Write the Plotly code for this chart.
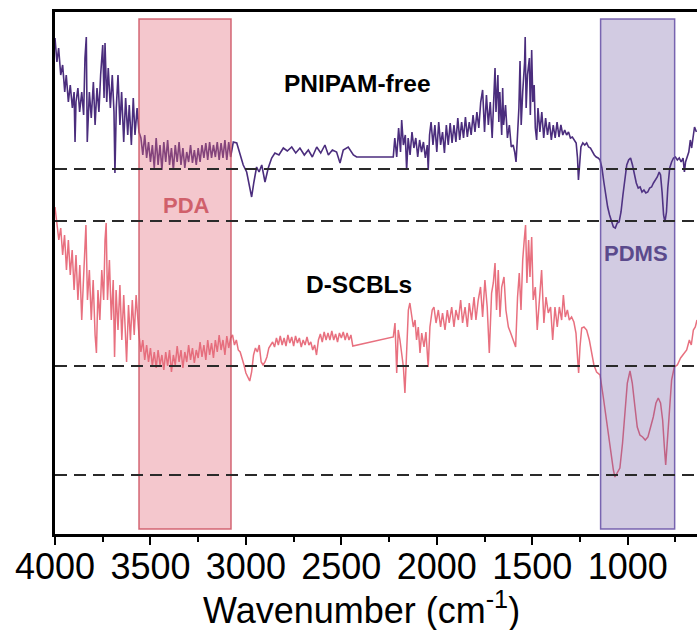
import plotly.graph_objects as go

# ---------------- data ----------------
# wavenumber (cm-1), transmittance (arbitrary offset units)
PNIPAM_FREE = [
    (4000,496),(3990,472),(3981,486),(3970,459),(3960,469),(3949,442),(3941,459),(3930,432),(3920,449),(3909,426),
    (3900,442),(3895,392),(3890,432),(3880,446),(3871,422),(3860,442),(3850,419),(3843,476),(3836,497),(3831,392),
    (3820,442),(3810,416),(3799,452),(3790,409),(3780,446),(3770,422),(3761,459),(3750,489),(3743,436),(3738,491),
    (3729,432),(3721,466),(3710,426),(3700,459),(3691,422),(3686,361),(3679,426),(3670,459),(3660,409),(3651,442),
    (3640,392),(3630,436),(3619,399),(3611,429),(3600,389),(3590,436),(3581,399),(3570,426),(3560,402),
    (3550,396),(3540,379),(3530,399),(3520,376),(3510,392),(3500,372),(3490,389),(3480,366),(3470,396),(3460,369),
    (3450,389),(3440,364),(3430,392),(3420,372),(3410,394),(3400,369),(3390,386),(3380,364),(3370,389),(3360,372),
    (3350,392),(3340,369),(3330,386),(3320,366),(3310,382),(3300,372),(3290,389),(3280,371),(3270,384),(3260,369),
    (3250,386),(3240,372),(3230,389),(3220,376),(3210,391),(3200,374),(3190,392),(3180,376),(3170,389),(3160,377),
    (3150,392),(3140,374),(3130,391),(3120,376),(3110,394),(3100,374),(3090,392),(3080,377),
    (3066,392),(3048,391),(3031,381),(3014,369),(2996,362),(2982,349),(2970,337),(2958,352),(2944,367),(2931,362),
    (2917,369),(2900,352),(2883,366),(2865,376),(2848,381),(2827,379),(2804,386),(2783,383),(2760,387),(2739,381),
    (2717,386),(2694,379),(2673,384),(2652,377),(2629,387),(2608,381),(2586,389),(2568,379),(2547,384),(2525,382),
    (2507,371),(2490,384),(2464,387),(2437,379),(2420,377),(2228,377),
    (2220,396),(2210,377),(2200,406),(2190,382),(2184,414),(2175,389),(2165,399),(2158,364),(2150,396),(2140,379),
    (2130,402),(2120,386),(2110,396),(2100,377),(2090,394),(2080,382),(2070,392),(2060,376),(2050,389),(2045,364),
    (2038,399),(2030,412),(2020,389),(2010,409),(2000,382),(1990,412),(1980,389),(1970,402),(1960,381),(1950,409),
    (1940,389),(1930,411),(1920,391),(1910,409),(1900,392),(1890,416),(1880,394),(1870,412),(1860,396),(1850,417),
    (1840,397),(1830,412),(1820,399),(1810,419),(1800,402),(1790,422),(1780,406),(1770,432),(1760,444),(1750,402),
    (1740,439),(1730,409),(1720,432),(1710,396),(1700,452),(1695,466),(1690,422),(1680,459),(1675,412),(1670,442),
    (1660,399),(1655,446),(1650,409),(1640,429),(1630,396),(1620,409),(1610,387),(1600,389),(1592,382),(1585,372),
    (1578,396),(1570,426),(1564,473),(1558,409),(1550,442),(1540,472),(1537,497),(1532,426),(1525,459),(1515,476),
    (1510,419),(1503,484),(1497,432),(1490,449),(1484,406),(1477,394),(1470,426),(1460,402),(1450,422),(1440,396),
    (1430,416),(1420,399),(1410,412),(1400,394),(1390,409),(1380,396),(1370,412),(1360,397),(1350,409),(1340,399),
    (1330,404),(1320,399),
    (1310,402),(1300,396),(1290,397),(1280,394),(1270,391),(1263,376),(1258,354),(1252,369),(1245,387),(1235,391),
    (1225,389),(1215,391),(1205,387),(1195,386),(1185,382),(1175,379),(1165,377),(1155,376),(1145,374),(1135,366),
    (1125,352),(1115,339),(1105,327),(1095,319),(1085,312),(1075,307),(1065,306),(1055,311),(1045,312),(1035,322),
    (1025,339),(1015,356),(1005,369),(995,374),(985,376),(975,369),(965,359),(955,351),(945,346),(935,347),
    (925,342),(915,344),(905,341),(895,342),(885,346),(875,347),(865,351),(855,354),(845,357),(835,362),
    (828,359),(820,342),(812,319),(805,312),(797,322),(790,346),(780,366),(770,372),(760,376),(750,377),
    (740,374),(730,376),(720,372),(710,376),(703,362),(697,372),(690,377),(680,382),(672,394),(665,386),
    (658,396),(650,407),(640,402),
]

D_SCBLS = [
    (4000,327),(3990,309),(3980,294),(3970,306),(3960,279),(3950,299),(3940,264),(3930,294),(3920,259),(3910,284),
    (3900,244),(3890,279),(3880,234),(3870,269),(3860,214),(3852,249),(3845,289),(3838,309),(3830,234),(3820,264),
    (3810,214),(3800,254),(3790,199),(3783,181),(3775,244),(3765,214),(3755,264),(3745,234),(3738,294),(3732,311),
    (3725,234),(3715,274),(3705,214),(3695,254),(3688,177),(3680,244),(3670,204),(3660,249),(3650,194),(3640,239),
    (3632,204),(3625,172),(3615,229),(3605,194),(3595,234),(3585,199),(3575,239),(3565,204),
    (3560,199),(3550,182),(3540,194),(3530,174),(3520,189),(3510,172),(3500,186),(3490,168),(3480,182),(3470,166),
    (3460,184),(3450,169),(3440,179),(3430,164),(3420,182),(3410,168),(3400,184),(3390,162),(3380,179),(3370,169),
    (3360,188),(3350,172),(3340,184),(3330,166),(3320,182),(3310,172),(3300,189),(3290,174),(3280,186),(3270,171),
    (3260,184),(3250,176),(3240,192),(3230,177),(3220,189),(3210,174),(3200,194),(3190,179),(3180,191),(3170,176),
    (3160,194),(3150,182),(3140,199),(3130,184),(3120,194),(3110,179),(3100,198),(3090,186),(3080,196),
    (3070,199),(3060,189),(3050,194),(3040,184),(3030,182),(3020,176),(3010,169),(3000,161),(2990,156),(2980,153),
    (2970,162),(2960,179),(2950,186),(2940,182),(2930,189),(2920,172),(2910,169),(2900,172),(2890,177),(2880,186),
    (2870,189),(2860,192),(2850,187),(2840,196),(2830,189),(2820,198),(2810,189),(2800,196),(2790,188),(2780,199),
    (2770,191),(2760,197),(2750,188),(2740,198),(2730,191),(2720,196),(2710,187),(2700,194),(2690,189),(2680,197),
    (2670,189),(2660,192),(2650,184),(2640,189),(2630,179),(2620,194),(2610,200),(2600,192),(2590,202),(2580,194),
    (2570,201),(2560,194),(2550,203),(2540,194),(2530,200),(2520,192),(2510,201),(2500,196),(2490,202),(2480,194),
    (2470,201),(2460,194),(2450,199),(2440,188),
    (2228,197),(2219,211),(2210,161),(2202,204),(2193,194),(2184,177),(2175,167),(2167,141),(2158,187),(2149,224),
    (2141,231),(2132,221),(2123,207),(2114,214),(2106,194),(2097,207),(2088,181),(2079,201),(2067,187),(2057,202),
    (2045,167),(2036,207),(2024,224),(2015,227),(2004,211),(1992,224),(1980,207),(1970,221),(1957,204),(1945,224),
    (1935,211),(1922,227),(1910,207),(1900,224),(1887,214),(1875,234),(1865,211),(1852,227),(1840,207),(1830,231),
    (1818,214),(1805,237),(1795,214),(1783,234),(1771,247),(1760,217),(1748,254),(1736,227),(1725,181),(1713,241),
    (1704,251),(1695,271),(1687,224),(1678,264),(1669,217),(1660,247),(1648,257),(1638,224),(1625,207),(1613,201),
    (1599,194),(1587,187),(1577,237),(1568,261),(1559,224),(1550,274),(1542,294),(1535,309),(1528,251),(1519,294),
    (1512,257),(1503,297),(1495,234),(1484,247),(1474,204),(1463,234),(1451,264),(1439,211),(1428,237),(1416,221),
    (1404,227),(1393,194),(1381,227),(1369,207),(1358,227),(1346,214),(1337,239),(1327,217),(1316,224),(1306,214),
    (1294,217),(1282,212),(1271,201),(1262,174),(1257,161),(1250,187),(1241,206),(1229,207),(1215,204),(1201,194),
    (1189,181),(1177,169),(1163,162),(1149,159),
    (1145,159),(1128,137),(1110,111),(1093,87),(1075,64),(1067,57),(1054,62),(1041,66),(1027,91),(1014,121),
    (1002,151),(988,163),(976,151),(962,127),(950,107),(936,99),(922,97),(908,94),(894,97),(880,107),
    (866,117),(852,131),(840,136),(828,131),(817,114),(808,87),(801,69),(793,91),(782,127),(770,154),
    (756,167),(740,169),(723,176),(705,181),(691,184),(677,194),(667,189),(656,204),(646,207),(637,214),
]

X_RANGE = [4000, 637]
Y_RANGE = [0, 522]
X_TICKS = [4000, 3500, 3000, 2500, 2000, 1500, 1000]
X_TICK_LABELS = ["4000", "3500", "3000", "2500", "2000", "1500", "1000"]
X_TITLE = "Wavenumber (cm<sup>-1</sup>)"
DASH_LEVELS = [365, 313, 168, 59]
BANDS = [  # (label, from, to)
    ("PDA", 3560, 3078),
    ("PDMS", 1142, 754),
]
SERIES_LABELS = [("PNIPAM-free", 2415, 451), ("D-SCBLs", 2408, 250)]
BAND_LABELS = [("PDA", 3309, 329), ("PDMS", 954, 281)]

PURPLE = "#4b2d7d"
PINK = "#e8707f"
FONT = "Arial, Liberation Sans, sans-serif"

fig = go.Figure()
for name, data, color, w in [("PNIPAM-free", PNIPAM_FREE, PURPLE, 1.6),
                             ("D-SCBLs", D_SCBLS, PINK, 1.5)]:
    fig.add_trace(go.Scatter(
        x=[p[0] for p in data], y=[p[1] for p in data],
        mode="lines", line=dict(color=color, width=w), name=name,
        showlegend=False, hoverinfo="skip"))

band_styles = {
    "PDA": dict(fill="rgba(226,108,124,0.38)", line="rgba(205,80,95,0.85)", text="#d0606b"),
    "PDMS": dict(fill="rgba(95,70,150,0.28)", line="rgba(100,78,165,0.85)", text="#5b4a8c"),
}
for label, a, b in BANDS:
    st = band_styles[label]
    fig.add_shape(type="rect", xref="x", yref="y", x0=a, x1=b, y0=5, y1=515,
                  fillcolor=st["fill"], line=dict(color=st["line"], width=1.5),
                  layer="above")

for lvl in DASH_LEVELS:
    fig.add_shape(type="line", xref="paper", yref="y", x0=0, x1=1, y0=lvl, y1=lvl,
                  line=dict(color="#2a2a2a", width=1.8, dash="12px,7px"), layer="above")

for text, x, y in SERIES_LABELS:
    fig.add_annotation(x=x, y=y, text=f"<b>{text}</b>", showarrow=False,
                       font=dict(family=FONT, size=24.5, color="#000000"))
for text, x, y in BAND_LABELS:
    fig.add_annotation(x=x, y=y, text=f"<b>{text}</b>", showarrow=False,
                       font=dict(family=FONT, size=22, color=band_styles[text]["text"]))

# axis title placed as paper annotation (centre ~ x=361px, y=607px)
fig.add_annotation(xref="paper", yref="paper", x=0.477, y=-0.141,
                   xanchor="center", yanchor="middle", showarrow=False,
                   text=X_TITLE, font=dict(family=FONT, size=36, color="#000000"))

fig.update_layout(
    width=697, height=630,
    margin=dict(l=55, r=0, t=12, b=96),
    plot_bgcolor="white", paper_bgcolor="white",
    showlegend=False,
    font=dict(family=FONT, color="#000000"),
)
fig.update_xaxes(
    range=X_RANGE, showgrid=False, zeroline=False,
    showline=True, linecolor="#000000", linewidth=2.5, mirror=True,
    ticks="outside", ticklen=8, tickwidth=2, tickcolor="#000000",
    tickvals=X_TICKS, ticktext=X_TICK_LABELS, ticklabelstandoff=-9,
    tickfont=dict(family=FONT, size=36, color="#000000"),
    minor=dict(ticks="outside", dtick=250, tick0=0, ticklen=5, tickwidth=2, tickcolor="#000000"),
)
fig.update_yaxes(
    range=Y_RANGE, showgrid=False, zeroline=False,
    showline=True, linecolor="#000000", linewidth=2.5,
    ticks="", showticklabels=False,
)

fig.write_html("out.html")
